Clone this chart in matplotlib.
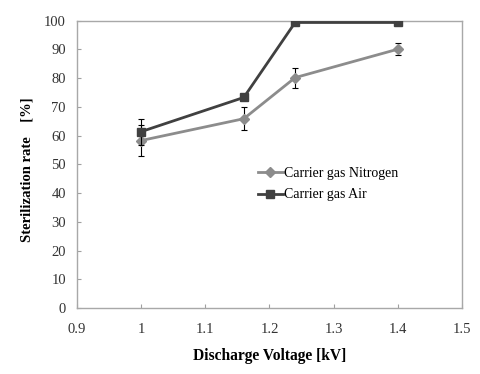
import matplotlib.pyplot as plt

# Data
voltage = [1.0, 1.16, 1.24, 1.4]
nitrogen = [58.3, 65.9, 80.2, 90.1]
nitrogen_err = [5.3, 4.0, 3.5, 2.0]
air = [61.4, 73.3, 99.4, 99.4]
air_err = [4.5, 0, 0, 0]

xticks = [0.9, 1.0, 1.1, 1.2, 1.3, 1.4, 1.5]
xticklabels = ['0.9', '1', '1.1', '1.2', '1.3', '1.4', '1.5']
yticks = list(range(0, 101, 10))

plt.rcParams['font.family'] = ['Liberation Serif', 'DejaVu Serif']

fig = plt.figure(figsize=(4.8, 3.74), dpi=100)
ax = fig.add_axes([0.1604, 0.1765, 0.802, 0.768])

ax.errorbar(voltage, nitrogen, yerr=nitrogen_err, color='#8c8c8c', marker='D',
            markersize=5, linewidth=2, ecolor='black', elinewidth=0.8,
            capsize=2.5, capthick=0.8, label='Carrier gas Nitrogen', zorder=3)
ax.errorbar(voltage, air, yerr=air_err, color='#404040', marker='s',
            markersize=6, linewidth=2, ecolor='black', elinewidth=0.8,
            capsize=2.5, capthick=0.8, label='Carrier gas Air', zorder=4)

ax.set_xlim(0.9, 1.5)
ax.set_ylim(0, 100)
ax.set_xticks(xticks)
ax.set_xticklabels(xticklabels)
ax.set_yticks(yticks)
ax.tick_params(direction='in', length=3, width=0.8, color='#a0a0a0',
               labelsize=10.5, labelcolor='#333333')
ax.tick_params(axis='x', pad=11)
ax.tick_params(axis='y', pad=8)
for s in ax.spines.values():
    s.set_color('#a8a8a8')
    s.set_linewidth(1)

ax.set_xlabel('Discharge Voltage [kV]', fontsize=11.2, fontweight='bold')
ax.xaxis.set_label_coords(0.5, -0.14)
ax.set_ylabel('Sterilization rate    [%]', fontsize=10.5, fontweight='bold')
ax.yaxis.set_label_coords(-0.112, 0.48)

handles, labels = ax.get_legend_handles_labels()
handles = [h[0] for h in handles]
ax.legend(handles, labels, loc='upper left', bbox_to_anchor=(0.455, 0.51),
          frameon=False, fontsize=10, handlelength=1.8, handletextpad=0.1,
          labelspacing=0.6, borderaxespad=0)

fig.savefig('out.png', dpi=100)
